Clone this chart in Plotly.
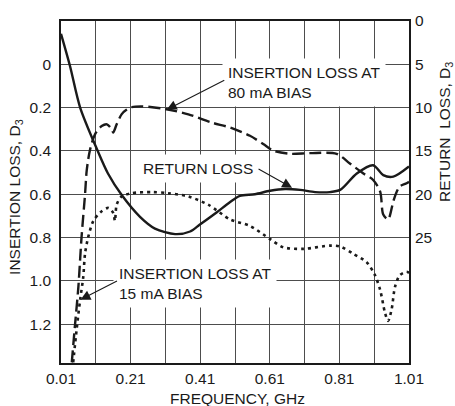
import plotly.graph_objects as go

# ---------------- data ----------------
# Return loss (right axis, solid)
rl_freq = [0.01, 0.036, 0.065, 0.115, 0.145, 0.184, 0.237, 0.28, 0.338, 0.381, 0.409, 0.457,
           0.496, 0.524, 0.567, 0.611, 0.654, 0.697, 0.74, 0.783, 0.812, 0.86, 0.907, 0.936,
           0.965, 1.01]
rl_val = [1.48, 5.22, 9.99, 14.95, 17.6, 20.06, 22.6, 23.96, 24.6, 24.3, 23.5, 22.1,
          20.9, 20.2, 20.0, 19.6, 19.4, 19.5, 19.75, 19.75, 19.5, 17.6, 16.65, 17.8,
          17.97, 16.8]

# Insertion loss at 80 mA bias (left axis, dashed)
il80_freq = [0.041, 0.05, 0.06, 0.069, 0.079, 0.084, 0.093, 0.108, 0.127, 0.142, 0.156, 0.16,
             0.17, 0.184, 0.199, 0.213, 0.242, 0.309, 0.376, 0.443, 0.496, 0.553, 0.591,
             0.62, 0.668, 0.726, 0.802, 0.84, 0.879, 0.907, 0.927, 0.936, 0.95, 0.965,
             0.975, 0.984, 1.003, 1.01]
il80_val = [1.376, 1.208, 1.026, 0.799, 0.602, 0.489, 0.398, 0.322, 0.285, 0.277, 0.3, 0.315,
            0.277, 0.231, 0.209, 0.198, 0.194, 0.206, 0.231, 0.269, 0.292, 0.33, 0.368,
            0.398, 0.413, 0.41, 0.413, 0.458, 0.504, 0.534, 0.587, 0.693, 0.716, 0.632,
            0.587, 0.563, 0.549, 0.542]

# Insertion loss at 15 mA bias (left axis, dotted)
il15_freq = [0.045, 0.055, 0.065, 0.074, 0.079, 0.088, 0.103, 0.127, 0.146, 0.16, 0.165, 0.17,
             0.184, 0.213, 0.271, 0.318, 0.376, 0.433, 0.496, 0.553, 0.611, 0.649, 0.706,
             0.783, 0.812, 0.85, 0.888, 0.912, 0.927, 0.941, 0.95, 0.96, 0.97, 0.984,
             1.003, 1.01]
il15_val = [1.376, 1.223, 1.087, 0.981, 0.875, 0.799, 0.723, 0.678, 0.663, 0.686, 0.723, 0.648,
            0.61, 0.595, 0.59, 0.595, 0.61, 0.648, 0.716, 0.746, 0.807, 0.845, 0.852,
            0.837, 0.841, 0.875, 0.913, 0.973, 1.041, 1.147, 1.185, 1.132, 1.026, 0.973,
            0.958, 0.963]

x_ticks = [0.01, 0.21, 0.41, 0.61, 0.81, 1.01]
x_ticklabels = ["0.01", "0.21", "0.41", "0.61", "0.81", "1.01"]
il_ticks = [0, 0.2, 0.4, 0.6, 0.8, 1.0, 1.2]
il_ticklabels = ["0", "0.2", "0.4", "0.6", "0.8", "1.0", "1.2"]
rl_ticks = [0, 5, 10, 15, 20, 25]
rl_ticklabels = ["0", "5", "10", "15", "20", "25"]

# ---------------- figure ----------------
FONT = "Liberation Sans, Arial, sans-serif"
INK = "#1a1a1a"
GRID = "#4d4d4d"

fig = go.Figure()
fig.add_trace(go.Scatter(x=il80_freq, y=il80_val, mode="lines", yaxis="y",
                         line=dict(color=INK, width=2.4, dash="12px,5px", shape="spline", smoothing=0.8),
                         showlegend=False, hoverinfo="skip"))
fig.add_trace(go.Scatter(x=il15_freq, y=il15_val, mode="lines", yaxis="y",
                         line=dict(color=INK, width=2.6, dash="3px,4px", shape="spline", smoothing=0.8),
                         showlegend=False, hoverinfo="skip"))
fig.add_trace(go.Scatter(x=rl_freq, y=rl_val, mode="lines", yaxis="y2",
                         line=dict(color=INK, width=2.4, shape="spline", smoothing=0.8),
                         showlegend=False, hoverinfo="skip"))

tickfont = dict(family=FONT, size=15.5, color=INK)

fig.update_layout(
    width=455, height=406,
    margin=dict(l=61, r=46, t=15, b=43),
    paper_bgcolor="white", plot_bgcolor="white",
    xaxis=dict(range=[0.01, 1.01], tickvals=x_ticks, ticktext=x_ticklabels,
               showgrid=True, gridcolor=GRID, gridwidth=1,
               minor=dict(dtick=0.1, tick0=0.01, showgrid=True, gridcolor=GRID, gridwidth=1),
               showline=True, linecolor=INK, linewidth=1.5, mirror=True,
               ticks="", ticklabelstandoff=1, tickfont=tickfont, zeroline=False),
    yaxis=dict(range=[1.379, -0.2], tickvals=il_ticks, ticktext=il_ticklabels,
               showgrid=True, gridcolor=GRID, gridwidth=1,
               showline=True, linecolor=INK, linewidth=1.5, mirror=True,
               ticks="", ticklabelstandoff=5, tickfont=tickfont, zeroline=False),
    yaxis2=dict(range=[39.48, 0], tickvals=rl_ticks, ticktext=rl_ticklabels,
                overlaying="y", side="right", showgrid=False, zeroline=False,
                ticks="", ticklabelstandoff=5, tickfont=tickfont, showline=False),
)

def px_x(p):
    return (p - 61) / 348.0

def px_y(p):
    return (363 - p) / 348.0

txt = dict(family=FONT, size=15.5, color=INK)
ann = []
# axis titles
ann.append(dict(text="INSERTION LOSS, D<sub>3</sub>", xref="paper", yref="paper",
                x=px_x(16), y=px_y(194), textangle=-90, showarrow=False, font=txt,
                xanchor="center", yanchor="middle"))
ann.append(dict(text="RETURN  LOSS, D<sub>3</sub>", xref="paper", yref="paper",
                x=px_x(445), y=px_y(128), textangle=-90, showarrow=False, font=txt,
                xanchor="center", yanchor="middle"))
ann.append(dict(text="FREQUENCY, GHz", xref="paper", yref="paper",
                x=px_x(237), y=px_y(399), showarrow=False, font=txt,
                xanchor="center", yanchor="middle"))
# labels with white boxes
ann.append(dict(text="INSERTION LOSS AT<br>80 mA BIAS", xref="paper", yref="paper",
                x=px_x(222), y=px_y(77.7), showarrow=False, font=txt, align="left",
                xanchor="left", yanchor="middle", bgcolor="white", borderpad=5))
ann.append(dict(text="RETURN LOSS", xref="paper", yref="paper",
                x=px_x(137), y=px_y(165), showarrow=False, font=txt, align="left",
                xanchor="left", yanchor="middle", bgcolor="white", borderpad=5))
ann.append(dict(text="INSERTION LOSS AT<br>15 mA BIAS", xref="paper", yref="paper",
                x=px_x(113), y=px_y(282.3), showarrow=False, font=txt, align="left",
                xanchor="left", yanchor="middle", bgcolor="white", borderpad=5))
# arrows
arrow = dict(showarrow=True, text="", arrowhead=2, arrowsize=1.8, arrowwidth=1.1,
             arrowcolor=INK, standoff=0)
ann.append(dict(arrow, x=0.314, y=0.209, xref="x", yref="y", ax=59, ay=-30))
ann.append(dict(arrow, x=0.674, y=19.24, xref="x", yref="y2", ax=-35, ay=-19.5))
ann.append(dict(arrow, x=0.066, y=1.087, xref="x", yref="y", ax=38, ay=-19.5))
fig.update_layout(annotations=ann)

fig.write_html("out.html")
